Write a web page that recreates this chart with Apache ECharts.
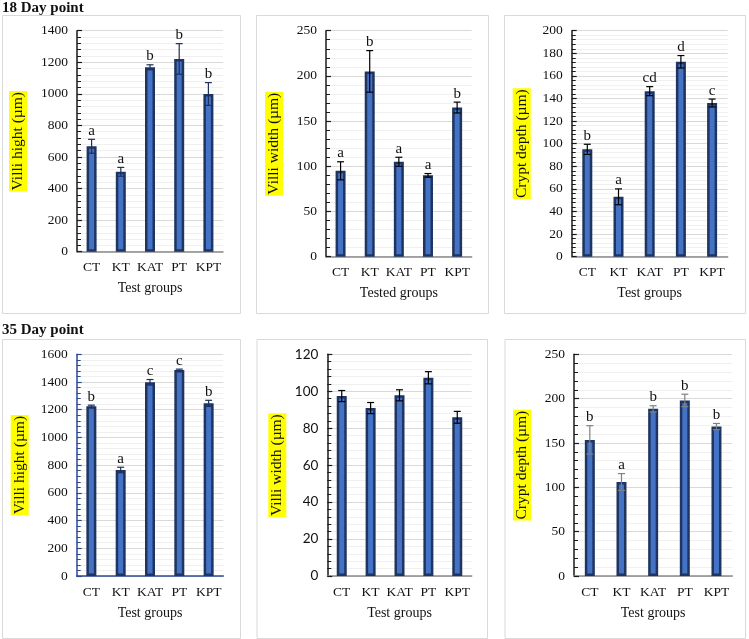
<!DOCTYPE html>
<html><head><meta charset="utf-8">
<script src="https://cdn.jsdelivr.net/npm/echarts@6/dist/echarts.min.js"></script>
<style>html,body{margin:0;padding:0;background:#fff}#c{width:749px;height:639px}</style>
</head><body><div id="c"></div>
<script>
const categories = ['CT', 'KT', 'KAT', 'PT', 'KPT'];

// 18 Day point
const d18HeightMean = [668, 506, 1168, 1221, 999];
const d18HeightErr = [44, 28, 16, 97, 72];
const d18HeightLetters = ['a', 'a', 'b', 'b', 'b'];
const d18WidthMean = [95, 205, 105, 90, 165];
const d18WidthErr = [10, 23, 5, 2, 6];
const d18WidthLetters = ['a', 'b', 'a', 'a', 'b'];
const d18CryptMean = [95, 53, 146.5, 172.5, 136];
const d18CryptErr = [4.5, 7, 4, 5.5, 3.5];
const d18CryptLetters = ['b', 'a', 'cd', 'd', 'c'];

// 35 Day point
const d35HeightMean = [1225, 765, 1398, 1487, 1246];
const d35HeightErr = [8, 20, 20, 6, 22];
const d35HeightLetters = ['b', 'a', 'c', 'c', 'b'];
const d35WidthMean = [97.4, 90.9, 97.8, 107.3, 85.9];
const d35WidthErr = [3, 3, 3, 3.3, 3.2];
const d35WidthLetters = ['', '', '', '', ''];
const d35CryptMean = [153.5, 106, 188.5, 198, 168.5];
const d35CryptErr = [16, 9.5, 3.5, 7, 3.5];
const d35CryptLetters = ['b', 'a', 'b', 'b', 'b'];

const sectionTitles = ['18 Day point', '35 Day point'];

const SERIF = '"Liberation Serif", "Times New Roman", serif';
const SANS = 'Lato, "Liberation Sans", sans-serif';

const panels = [
  { mean: d18HeightMean, err: d18HeightErr, letters: d18HeightLetters, max: 1400, interval: 200,
    yName: 'Villi hight (µm)', xName: 'Test groups',
    grid: [77, 30.7, 146, 221], gap: 50, axisColor: '#1a1a1a', xAxisColor: '#8c8c8c', errColor: '#1f2f5c', tickFont: SERIF,
    box: [2, 15, 238, 298] },
  { mean: d18WidthMean, err: d18WidthErr, letters: d18WidthLetters, max: 250, interval: 50,
    yName: 'Villi width (µm)', xName: 'Tested groups',
    grid: [326, 30.7, 145.7, 226], gap: 43, axisColor: '#1a1a1a', xAxisColor: '#8c8c8c', errColor: '#000', tickFont: SERIF,
    box: [256, 15, 232, 298] },
  { mean: d18CryptMean, err: d18CryptErr, letters: d18CryptLetters, max: 200, interval: 20,
    yName: 'Crypt depth (µm)', xName: 'Test groups',
    grid: [571.7, 30.7, 156, 226], gap: 41, axisColor: '#1a1a1a', xAxisColor: '#8c8c8c', errColor: '#000', tickFont: SERIF,
    box: [504, 15, 241, 298] },
  { mean: d35HeightMean, err: d35HeightErr, letters: d35HeightLetters, max: 1600, interval: 200,
    yName: 'Villi hight (µm)', xName: 'Test groups',
    grid: [76.7, 354.3, 146.6, 221.7], gap: 48, axisColor: '#2c4a94', xAxisColor: '#2c4a94', errColor: '#1f2f5c', tickFont: SERIF,
    box: [2, 339, 238, 299] },
  { mean: d35WidthMean, err: d35WidthErr, letters: d35WidthLetters, max: 120, interval: 20,
    yName: 'Villi width (µm)', xName: 'Test groups',
    grid: [327.3, 354.3, 144.4, 221.7], gap: 41, axisColor: '#1a1a1a', xAxisColor: '#8c8c8c', errColor: '#000', tickFont: SANS,
    box: [256.5, 339, 230.5, 299] },
  { mean: d35CryptMean, err: d35CryptErr, letters: d35CryptLetters, max: 250, interval: 50,
    yName: 'Crypt depth (µm)', xName: 'Test groups',
    grid: [574, 354.3, 158.3, 221.7], gap: 43, axisColor: '#1a1a1a', xAxisColor: '#8c8c8c', errColor: '#808080', tickFont: SERIF,
    box: [504.5, 339, 240.5, 299] }
];

const grid = [], xAxis = [], yAxis = [], series = [], graphic = [];

panels.forEach((p, i) => {
  graphic.push({ type: 'rect', shape: { x: p.box[0] + 0.5, y: p.box[1] + 0.5, width: p.box[2], height: p.box[3] },
    style: { fill: 'none', stroke: '#d9d9d9', lineWidth: 1 }, silent: true, z: -10 });
  grid.push({ left: p.grid[0], top: p.grid[1], width: p.grid[2], height: p.grid[3], containLabel: false });
  xAxis.push({
    gridIndex: i, type: 'category', data: categories,
    name: p.xName, nameLocation: 'middle', nameGap: 30,
    nameTextStyle: { fontFamily: SERIF, fontSize: 14, color: '#111' },
    axisLine: { lineStyle: { color: p.xAxisColor, width: 1.5 } },
    axisTick: { show: false },
    axisLabel: { fontFamily: SERIF, fontSize: 13.5, color: '#111', margin: 9, interval: 0 },
    splitLine: { show: false }
  });
  yAxis.push({
    gridIndex: i, type: 'value', min: 0, max: p.max, interval: p.interval,
    name: p.yName, nameLocation: 'middle', nameRotate: 90, nameGap: p.gap,
    nameTextStyle: { fontFamily: SERIF, fontSize: 15.5, color: '#111', backgroundColor: '#ffff00', padding: [1, 1, 1, 1] },
    axisLine: { show: true, lineStyle: { color: p.axisColor, width: 1.5 } },
    axisTick: { show: true, inside: true, length: 5, lineStyle: { color: p.axisColor, width: 1.2 } },
    minorTick: { show: true, splitNumber: 5, length: 4, lineStyle: { color: p.axisColor, width: 1 } },
    minorSplitLine: { show: true, lineStyle: { color: '#f0f0f0', width: 1 } },
    splitLine: { show: true, lineStyle: { color: '#d9d9d9', width: 1 } },
    axisLabel: { fontFamily: p.tickFont, fontSize: 13.5, color: '#111', margin: 9, formatter: v => String(v) }
  });
  series.push({
    type: 'bar', xAxisIndex: i, yAxisIndex: i, data: p.mean, barWidth: 10,
    itemStyle: { color: '#4472c4', borderColor: '#1f3561', borderWidth: 2.5 },
    z: 2
  });
  const errData = p.mean.map((m, k) => [k, m, p.err[k]]);
  const letters = p.letters;
  const errColor = p.errColor;
  series.push({
    type: 'custom', xAxisIndex: i, yAxisIndex: i, data: errData, z: 5,
    encode: { x: 0, y: 1 },
    renderItem: function (params, api) {
      const x = api.value(0), m = api.value(1), e = api.value(2);
      const top = api.coord([x, m + e]);
      const bot = api.coord([x, m - e]);
      const cw = 3.5;
      const st = { stroke: errColor, lineWidth: 1.2 };
      const children = [
        { type: 'line', shape: { x1: top[0], y1: top[1], x2: bot[0], y2: bot[1] }, style: st },
        { type: 'line', shape: { x1: top[0] - cw, y1: top[1], x2: top[0] + cw, y2: top[1] }, style: st },
        { type: 'line', shape: { x1: bot[0] - cw, y1: bot[1], x2: bot[0] + cw, y2: bot[1] }, style: st }
      ];
      const lt = letters[params.dataIndex];
      if (lt) {
        children.push({ type: 'text', x: top[0], y: top[1] - 1,
          style: { text: lt, fontFamily: SERIF, fontSize: 15, fill: '#111', align: 'center', verticalAlign: 'bottom' } });
      }
      return { type: 'group', children: children };
    }
  });
});

graphic.push({ type: 'text', left: 2, top: 1, style: { text: sectionTitles[0], fontFamily: SERIF, fontWeight: 'bold', fontSize: 15, fill: '#111' } });
graphic.push({ type: 'text', left: 2, top: 323, style: { text: sectionTitles[1], fontFamily: SERIF, fontWeight: 'bold', fontSize: 15, fill: '#111' } });

const chart = echarts.init(document.getElementById('c'), null, { renderer: 'canvas' });
chart.setOption({ backgroundColor: '#fff', animation: false, grid, xAxis, yAxis, series, graphic });
</script></body></html>
